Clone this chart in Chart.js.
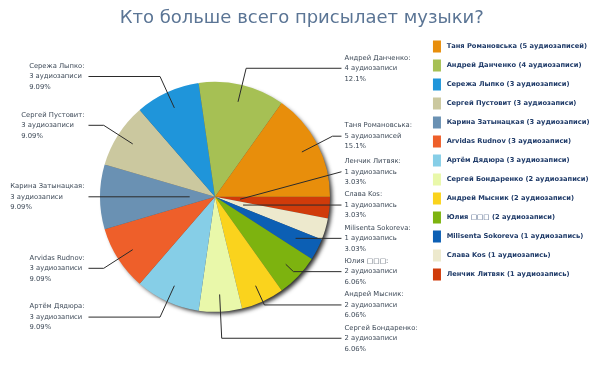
<!DOCTYPE html>
<html>
<head>
<meta charset="utf-8">
<script src="https://cdn.jsdelivr.net/npm/chart.js@4/dist/chart.umd.min.js"></script>
<style>
  html, body { margin: 0; padding: 0; background: #fff; }
  #wrap { width: 604px; height: 378px; }
</style>
</head>
<body>
<div id="wrap"><canvas id="pie"></canvas></div>
<script>
// legend order, top to bottom (the pie runs counter-clockwise from 3 o'clock in this order)
const names = [
  "Таня Романовська", "Андрей Данченко", "Сережа Лыпко", "Сергей Пустовит",
  "Карина Затынацкая", "Arvidas Rudnov", "Артём Дядюра", "Сергей Бондаренко",
  "Андрей Мысник", "Юлия □□□", "Milisenta Sokoreva", "Слава Kos", "Ленчик Литвяк"
];
const counts = [5, 4, 3, 3, 3, 3, 3, 2, 2, 2, 1, 1, 1];
const colors = [
  "#e88e0b", "#a6c054", "#1f95da", "#cbc89f", "#6a91b3", "#ee5f2a", "#86cee7",
  "#e9f8aa", "#fad31d", "#7db30f", "#0c5fb4", "#ede9cd", "#d03b0a"
];

function plural(n) {
  const m10 = n % 10, m100 = n % 100;
  if (m10 === 1 && m100 !== 11) return n + " аудиозапись";
  if (m10 >= 2 && m10 <= 4 && (m100 < 12 || m100 > 14)) return n + " аудиозаписи";
  return n + " аудиозаписей";
}
function pct(v, total) {
  const p = v / total * 100;
  const k = 3 - String(Math.floor(p)).length;
  return (Math.floor(p * Math.pow(10, k)) / Math.pow(10, k)).toFixed(k) + "%";
}

// Chart.js draws clockwise, so feed it the reversed lists
const total = counts.reduce((a, b) => a + b, 0);
const cwNames = names.slice().reverse();
const cwCounts = counts.slice().reverse();
const cwColors = colors.slice().reverse();

const shadow = {
  id: "pieShadow",
  beforeDatasetsDraw(chart) {
    const arc = chart.getDatasetMeta(0).data[0];
    if (!arc) return;
    const ctx = chart.ctx;
    ctx.save();
    ctx.shadowColor = "rgba(0,0,0,0.85)";
    ctx.shadowOffsetX = 3;
    ctx.shadowOffsetY = 3;
    ctx.shadowBlur = 4;
    ctx.fillStyle = "#555";
    ctx.beginPath();
    ctx.arc(arc.x, arc.y, arc.outerRadius - 1, 0, Math.PI * 2);
    ctx.fill();
    ctx.restore();
  }
};

function spread(list, gap, lo, hi) {
  list.sort((a, b) => a.want - b.want);
  let groups = list.map(it => ({ items: [it], sum: it.want }));
  const place = g => {
    const n = g.items.length;
    let top = g.sum / n - (n - 1) * gap / 2;
    top = Math.max(lo, Math.min(hi - (n - 1) * gap, top));
    g.top = top;
  };
  groups.forEach(place);
  let changed = true;
  while (changed) {
    changed = false;
    for (let i = 0; i < groups.length - 1; i++) {
      const a = groups[i], b = groups[i + 1];
      if (b.top < a.top + a.items.length * gap) {
        a.items = a.items.concat(b.items);
        a.sum += b.sum;
        groups.splice(i + 1, 1);
        place(a);
        changed = true;
        break;
      }
    }
  }
  groups.forEach(g => g.items.forEach((it, j) => { it.y = g.top + j * gap; }));
}

const sliceLabels = {
  id: "sliceLabels",
  afterDatasetsDraw(chart) {
    const meta = chart.getDatasetMeta(0);
    const ctx = chart.ctx;
    const first = meta.data[0];
    const cx = first.x, cy = first.y, r = first.outerRadius;
    const items = meta.data.map((arc, i) => {
      const mid = (arc.startAngle + arc.endAngle) / 2;
      const dx = Math.cos(mid), dy = Math.sin(mid);
      return { i, dx, dy, side: dx >= 0 ? 1 : -1, want: cy + dy * 1.15 * r };
    });
    const lo = cy - 1.23 * r, hi = cy + 1.23 * r;
    spread(items.filter(it => it.side > 0), 33.3, lo, hi);
    spread(items.filter(it => it.side < 0), 33.3, lo, hi);

    ctx.save();
    ctx.font = "6.8px 'DejaVu Sans'";
    ctx.textBaseline = "middle";
    items.forEach(it => {
      const lineX = cx + it.side * 1.1 * r;
      const ray = t => ({ x: cx + it.dx * t, y: cy + it.dy * t });
      const anchorR = 0.85 * r;
      let t = Math.abs(it.dy) > 1e-9 ? (it.y - cy) / it.dy : -1;
      let pts;
      if (t >= anchorR) {
        const e = ray(t);
        if (it.side > 0) e.x = Math.min(e.x, lineX); else e.x = Math.max(e.x, lineX);
        pts = [ray(anchorR), e];
      } else if (t >= 0.2 * r) {
        pts = [ray(t)];
      } else {
        pts = [ray(0.22 * r)];
      }
      pts.push({ x: lineX, y: it.y });
      ctx.strokeStyle = "#2b2b2b";
      ctx.lineWidth = 1;
      ctx.beginPath();
      ctx.moveTo(pts[0].x, pts[0].y);
      pts.slice(1).forEach(p => ctx.lineTo(p.x, p.y));
      ctx.stroke();

      const lines = [cwNames[it.i] + ":", plural(cwCounts[it.i]), pct(cwCounts[it.i], total)];
      ctx.fillStyle = "#3e4a58";
      let tx;
      if (it.side > 0) {
        tx = lineX + 3;
      } else {
        const w = Math.max(...lines.map(s => ctx.measureText(s).width));
        tx = lineX - 4 - w;
      }
      ctx.textAlign = "left";
      lines.forEach((s, k) => ctx.fillText(s, tx, it.y + (k - 1) * 10.5));
    });
    ctx.restore();
  }
};

new Chart(document.getElementById("pie"), {
  type: "pie",
  data: {
    labels: cwNames.map((n, i) => " " + n + " (" + plural(cwCounts[i]) + ")"),
    datasets: [{
      data: cwCounts,
      backgroundColor: cwColors,
      borderWidth: 0,
      radius: 115
    }]
  },
  options: {
    responsive: true,
    maintainAspectRatio: false,
    animation: false,
    events: [],
    rotation: 90,
    layout: { padding: { left: 4, right: 4.5, top: 0, bottom: 18 } },
    plugins: {
      title: {
        display: true,
        text: "Кто больше всего присылает музыки?",
        color: "#5b7595",
        font: { family: "DejaVu Sans", size: 18, weight: "normal" },
        padding: { top: 8, bottom: 4 }
      },
      legend: {
        position: "right",
        align: "start",
        fullSize: false,
        reverse: true,
        labels: {
          boxWidth: 8,
          boxHeight: 12,
          padding: 7,
          color: "#1e3a68",
          font: { family: "DejaVu Sans", size: 6.7, weight: "bold" }
        }
      },
      tooltip: { enabled: false }
    }
  },
  plugins: [shadow, sliceLabels]
});
</script>
</body>
</html>
